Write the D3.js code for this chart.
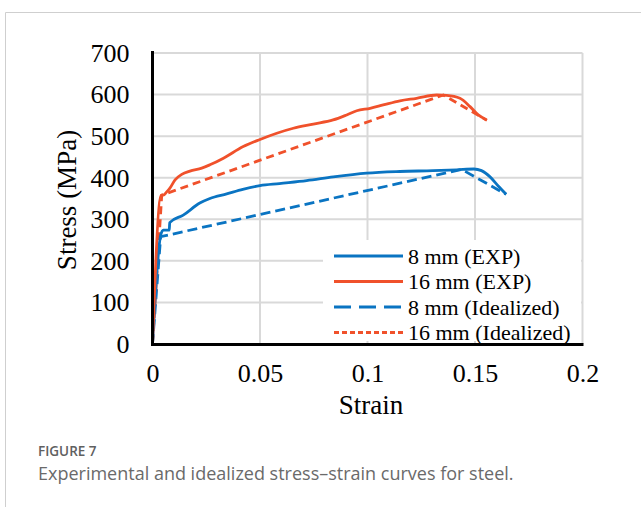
<!DOCTYPE html>
<html><head><meta charset="utf-8">
<script src="https://cdn.jsdelivr.net/npm/d3@7"></script>
<style>
html,body{margin:0;padding:0;background:#fff;}
svg{display:block;}
</style></head>
<body>
<svg id="chart" width="641" height="507"></svg>
<script>
// ---- data ----
const xTicks = [0, 0.05, 0.1, 0.15, 0.2];
const xTickLabels = ["0", "0.05", "0.1", "0.15", "0.2"];
const yTicks = [0, 100, 200, 300, 400, 500, 600, 700];
const yTickLabels = ["0", "100", "200", "300", "400", "500", "600", "700"];

const strain8Exp = [0, 0.0038, 0.005, 0.0078, 0.008, 0.0143, 0.022, 0.0267, 0.0345, 0.042, 0.05, 0.059, 0.0717, 0.0841, 0.0996, 0.115, 0.1305, 0.1415, 0.1495, 0.153, 0.157, 0.1608, 0.1645];
const stress8Exp = [0, 262, 274, 274, 292, 310, 339, 350, 361, 372, 381, 386, 393, 402, 411, 415, 417, 419, 421, 417, 402, 380, 360];

const strain16Exp = [0, 0.004, 0.005, 0.0066, 0.0081, 0.0105, 0.0136, 0.0174, 0.0229, 0.0267, 0.033, 0.0422, 0.05, 0.0578, 0.0655, 0.0748, 0.084, 0.0903, 0.095, 0.1012, 0.1073, 0.1151, 0.1228, 0.1322, 0.1368, 0.143, 0.1477, 0.1515, 0.1555];
const stress16Exp = [0, 358, 358, 366, 375, 395, 408, 416, 423, 431, 447, 475, 492, 507, 519, 529, 539, 551, 561, 567, 575, 585, 591, 599, 598, 591, 571, 551, 539];

const strain8Ideal = [0, 0.0038, 0.1438, 0.1645];
const stress8Ideal = [0, 258, 420, 360];
const strain16Ideal = [0, 0.0043, 0.1353, 0.1555];
const stress16Ideal = [0, 358, 599, 538];

const seriesNames = ["8 mm (EXP)", "16 mm (EXP)", "8 mm (Idealized)", "16 mm (Idealized)"];
const xTitle = "Strain";
const yTitle = "Stress (MPa)";
const figLabel = "FIGURE 7";
const figCaption = "Experimental and idealized stress\u2013strain curves for steel.";

// ---- styles ----
const BLUE = "#0a74c2", RED = "#f0512b", GRID = "#d9d9d9";
const serif = "'Liberation Serif','Times New Roman',serif";

const svg = d3.select("#chart");

// outer frame
svg.append("path").attr("d", "M5.5,507 L5.5,12.5 L641,12.5")
  .attr("fill", "none").attr("stroke", "#cfcfcf").attr("stroke-width", 1);

const x = d3.scaleLinear().domain([0, 0.2]).range([152.5, 582.5]);
const y = d3.scaleLinear().domain([0, 700]).range([344, 53]);

const g = svg.append("g");

// gridlines
g.append("g").selectAll("line").data(yTicks.filter(d => d > 0)).join("line")
  .attr("x1", x(0)).attr("x2", x(0.2))
  .attr("y1", d => y(d)).attr("y2", d => y(d))
  .attr("stroke", GRID).attr("stroke-width", 2);
g.append("g").selectAll("line").data(xTicks.filter(d => d > 0)).join("line")
  .attr("x1", d => x(d)).attr("x2", d => x(d))
  .attr("y1", y(700)).attr("y2", y(0))
  .attr("stroke", GRID).attr("stroke-width", 2);

// series
const mk = (xs, ys) => xs.map((v, i) => [v, ys[i]]);
const lineCurve = d3.line().x(d => x(d[0])).y(d => y(d[1])).curve(d3.curveMonotoneX);
const lineStraight = d3.line().x(d => x(d[0])).y(d => y(d[1]));

g.append("path").datum(mk(strain8Ideal, stress8Ideal)).attr("d", lineStraight)
  .attr("fill", "none").attr("stroke", BLUE).attr("stroke-width", 2.8).attr("stroke-dasharray", "10,5");
g.append("path").datum(mk(strain16Ideal, stress16Ideal)).attr("d", lineStraight)
  .attr("fill", "none").attr("stroke", RED).attr("stroke-width", 2.8).attr("stroke-dasharray", "8,5");
g.append("path").datum(mk(strain8Exp, stress8Exp)).attr("d", lineCurve)
  .attr("fill", "none").attr("stroke", BLUE).attr("stroke-width", 2.8).attr("stroke-linejoin", "round");
g.append("path").datum(mk(strain16Exp, stress16Exp)).attr("d", lineCurve)
  .attr("fill", "none").attr("stroke", RED).attr("stroke-width", 2.8).attr("stroke-linejoin", "round");

// legend
const lg = svg.append("g");
lg.append("rect").attr("x", 323).attr("y", 240).attr("width", 258).attr("height", 101).attr("fill", "#fff");
const legStyles = [
  {c: BLUE, dash: null},
  {c: RED, dash: null},
  {c: BLUE, dash: "17,8"},
  {c: RED, dash: "5,3"}
];
seriesNames.forEach((name, i) => {
  const cy = 256 + i * 25.5;
  lg.append("line").attr("x1", 334).attr("x2", 403).attr("y1", cy).attr("y2", cy)
    .attr("stroke", legStyles[i].c).attr("stroke-width", 2.8)
    .attr("stroke-dasharray", legStyles[i].dash);
  lg.append("text").attr("x", 408).attr("y", cy).attr("dy", "0.35em")
    .attr("font-family", serif).attr("font-size", 22).attr("fill", "#000").text(name);
});

// axes
const xAxis = d3.axisBottom(x).tickValues(xTicks).tickFormat((d, i) => xTickLabels[i]).tickSize(0).tickPadding(20);
const yAxis = d3.axisLeft(y).tickValues(yTicks).tickFormat((d, i) => yTickLabels[i]).tickSize(0).tickPadding(23);
const gx = svg.append("g").attr("transform", `translate(0,${y(0)})`).call(xAxis);
const gy = svg.append("g").attr("transform", `translate(${x(0)},0)`).call(yAxis);
[gx, gy].forEach(a => {
  a.select(".domain").remove();
  a.selectAll("text").attr("font-family", serif).attr("font-size", 26).attr("fill", "#000");
});
// axis lines
svg.append("line").attr("x1", x(0) - 1.5).attr("x2", 583.5).attr("y1", y(0) + 0.5).attr("y2", y(0) + 0.5)
  .attr("stroke", "#000").attr("stroke-width", 3);
svg.append("line").attr("x1", x(0)).attr("x2", x(0)).attr("y1", 51).attr("y2", y(0) + 2)
  .attr("stroke", "#000").attr("stroke-width", 3);

// titles
svg.append("text").attr("x", 371).attr("y", 414).attr("text-anchor", "middle")
  .attr("font-family", serif).attr("font-size", 27).attr("fill", "#000").text(xTitle);
svg.append("text").attr("transform", "translate(76,200) rotate(-90)").attr("text-anchor", "middle")
  .attr("font-family", serif).attr("font-size", 27).attr("fill", "#000").text(yTitle);

// caption
svg.append("text").attr("x", 38).attr("y", 456).attr("font-family", "'Open Sans',sans-serif")
  .attr("font-size", 13.5).attr("font-weight", 600).attr("fill", "#606060").text(figLabel);
svg.append("text").attr("x", 38).attr("y", 480).attr("font-family", "'Open Sans',sans-serif")
  .attr("font-size", 18).attr("fill", "#6a6a6a").text(figCaption);
</script>
</body></html>
